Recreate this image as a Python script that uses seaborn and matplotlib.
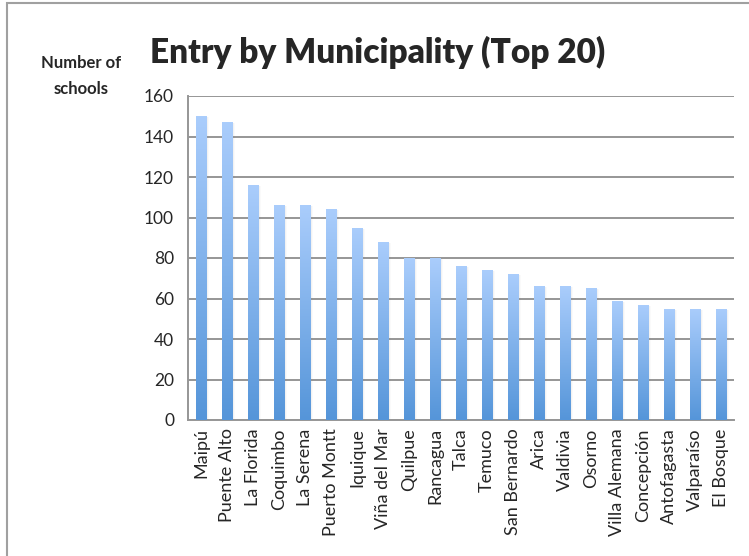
import numpy as np
import matplotlib
matplotlib.use("Agg")
import matplotlib.pyplot as plt
import seaborn as sns
from matplotlib.colors import LinearSegmentedColormap
from matplotlib.patches import Rectangle

# data
municipalities = ["Maipú", "Puente Alto", "La Florida", "Coquimbo", "La Serena",
                  "Puerto Montt", "Iquique", "Viña del Mar", "Quilpue", "Rancagua",
                  "Talca", "Temuco", "San Bernardo", "Arica", "Valdivia", "Osorno",
                  "Villa Alemana", "Concepción", "Antofagasta", "Valparaíso", "El Bosque"]
schools = [150, 147, 116, 106, 106, 104, 95, 88, 80, 80,
           76, 74, 72, 66, 66, 65, 59, 57, 55, 55, 55]
y_ticks = [0, 20, 40, 60, 80, 100, 120, 140, 160]

sns.set_style("white")
plt.rcParams['font.family'] = ['Lato', 'DejaVu Sans']

GRID = '#969696'

fig = plt.figure(figsize=(7.49, 5.56), dpi=100)
ax = fig.add_axes([188 / 749, 1 - 420 / 556, (734 - 188) / 749, (420 - 96) / 556])

sns.barplot(x=municipalities, y=schools, width=0.42, color='#7fb0ea',
            ax=ax, zorder=3)

# gradient fill (light top -> darker bottom) clipped to each bar
cmap = LinearSegmentedColormap.from_list('bar', ['#5595d9', '#aacdfc'])
grad = np.linspace(0, 1, 256).reshape(-1, 1)
for p in list(ax.patches):
    x0, w, h = p.get_x(), p.get_width(), p.get_height()
    # faint drop shadow
    for k, a in enumerate([0.10, 0.06, 0.03]):
        ax.add_patch(Rectangle((x0 + w, 0), 0.03 * (k + 1), h - 0.5,
                               facecolor='#777777', alpha=a, lw=0, zorder=2))
    p.set_facecolor('none')
    p.set_edgecolor('none')
    im = ax.imshow(grad, extent=[x0, x0 + w, 0, h], origin='lower', cmap=cmap,
                   aspect='auto', zorder=3, interpolation='bilinear')
    im.set_clip_path(p)

ax.set_xlim(-0.5, len(municipalities) - 0.5)
ax.set_ylim(0, 160)
ax.set_yticks(y_ticks)
ax.yaxis.grid(True, color=GRID, lw=1.4)
ax.set_axisbelow(True)

for side in ['top', 'right']:
    ax.spines[side].set_visible(False)
for side in ['left', 'bottom']:
    ax.spines[side].set_color(GRID)
    ax.spines[side].set_linewidth(1.4)

ax.set_xticks(np.arange(len(municipalities)))
ax.set_xticklabels(municipalities, rotation=90, fontsize=13)
ax.tick_params(axis='x', length=0, pad=6)
ax.set_xticks(np.arange(-0.5, len(municipalities)), minor=True)
ax.tick_params(axis='x', which='minor', length=6, width=1.3, color=GRID)
ax.tick_params(axis='y', length=6, width=1.3, color=GRID, labelsize=12.5, pad=4)
ax.set_xlabel('')
ax.set_ylabel('')

fig.text(81 / 749, 1 - 76 / 556, "Number of\nschools", ha='center', va='center',
         fontsize=12, fontweight='bold', linespacing=1.7)
fig.text(378 / 749, 1 - 52 / 556, "Entry by Municipality (Top 20)", ha='center',
         va='center', fontsize=24, fontweight='heavy')

# outer chart frame
fig.add_artist(Rectangle((7 / 749, -0.05), 1.0, 1 - 3 / 556 + 0.05,
                         transform=fig.transFigure, fill=False,
                         edgecolor='#a0a0a0', lw=1.5))

fig.savefig("out.png", dpi=100)
